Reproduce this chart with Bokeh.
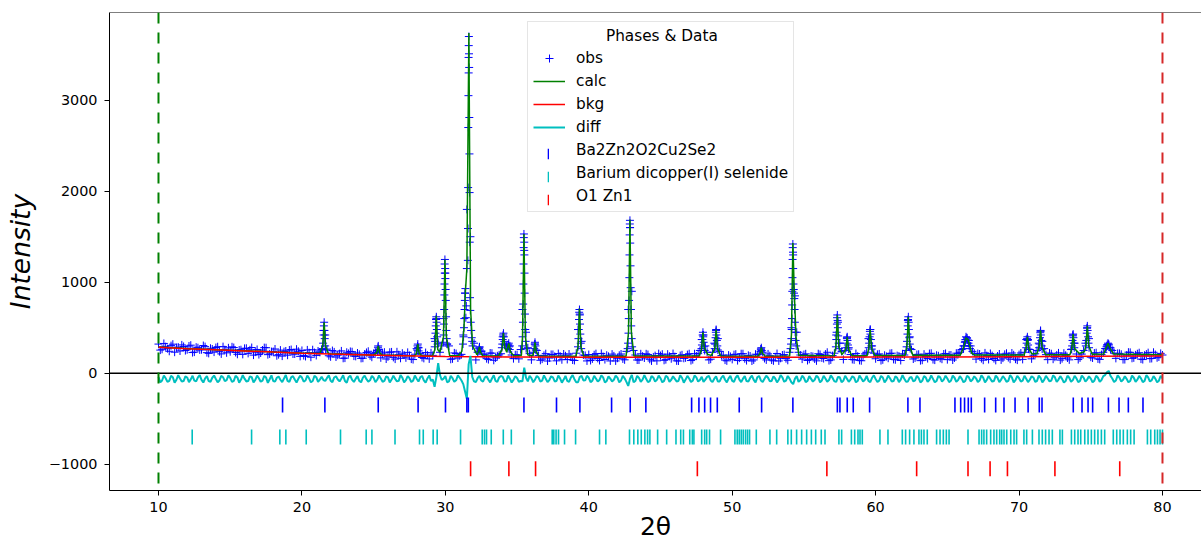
import numpy as np
from bokeh.plotting import figure
from bokeh.models import (Span, Legend, LegendItem, FixedTicker, CustomJSTickFormatter, Range1d)
from bokeh.embed import file_html
from bokeh.resources import INLINE

# ---------------- data ----------------
two_theta_start = 10.0
two_theta_step = 0.25

# observed counts on the 0.25 deg grid, 10.0 .. 80.0
obs_counts = [
    320, 263, 291, 241, 319, 281, 244, 294, 258, 308, 232, 280, 258, 292, 218, 266, 282, 237, 292, 224,
    236, 282, 208, 258, 273, 218, 282, 232, 205, 255, 280, 212, 238, 192, 254, 237, 198, 260, 211, 241,
    250, 184, 225, 258, 195, 229, 470, 265, 180, 234, 198, 245, 166, 217, 236, 185, 207, 165, 228, 191,
    218, 250, 169, 231, 180, 234, 155, 203, 220, 169, 195, 150, 270, 218, 163, 199, 224, 380, 330, 300,
    1100, 300, 158, 216, 192, 420, 1800, 1500, 330, 230, 240, 208, 150, 220, 168, 201, 400, 300, 300, 160,
    203, 260, 1350, 280, 147, 320, 195, 155, 215, 168, 206, 136, 188, 211, 151, 180, 140, 480, 350, 195,
    205, 157, 215, 140, 183, 197, 135, 190, 165, 211, 147, 700, 900, 200, 145, 187, 213, 153, 179, 136,
    194, 142, 209, 159, 182, 134, 202, 169, 214, 149, 189, 250, 420, 230, 154, 330, 380, 195, 144, 199,
    152, 209, 166, 214, 139, 189, 146, 204, 265, 162, 212, 145, 180, 135, 200, 160, 230, 1300, 450, 200,
    205, 140, 188, 156, 214, 168, 210, 138, 194, 420, 330, 151, 390, 205, 147, 187, 137, 212, 380, 300,
    159, 212, 147, 185, 217, 152, 193, 140, 200, 580, 260, 168, 208, 143, 183, 216, 150, 197, 164, 211,
    149, 200, 168, 218, 260, 350, 360, 240, 155, 211, 143, 193, 217, 161, 189, 146, 207, 172, 222, 154,
    204, 152, 370, 260, 198, 250, 460, 270, 149, 214, 176, 223, 160, 197, 147, 420, 211, 168, 250, 500,
    176, 221, 157, 205, 270, 320, 250, 163, 218, 150, 198, 229, 169, 214, 155, 198, 226, 162, 205, 178,
    200,
]
# observed counts on the interleaved grid, 10.125 .. 79.875
obs_counts_mid = [
    254, 327, 270, 303, 231, 287, 311, 249, 299, 227, 286, 256, 304, 226, 274, 232, 291, 212, 258, 279,
    290, 228, 255, 207, 274, 257, 199, 261, 222, 281, 204, 238, 266, 204, 188, 244, 255, 211, 264, 185,
    194, 256, 176, 227, 244, 260, 420, 192, 249, 178, 215, 164, 230, 239, 188, 222, 163, 210, 241, 176,
    228, 260, 212, 156, 230, 174, 235, 164, 199, 229, 155, 209, 280, 173, 227, 157, 196, 600, 230, 600,
    320, 153, 223, 167, 207, 880, 3300, 350, 146, 285, 210, 160, 222, 142, 191, 214, 320, 310, 200, 203,
    158, 700, 450, 215, 230, 250, 142, 196, 134, 206, 184, 216, 148, 191, 211, 145, 220, 650, 200, 135,
    140, 203, 163, 217, 150, 185, 210, 135, 197, 157, 240, 1600, 250, 145, 213, 167, 205, 135, 193, 215,
    209, 149, 186, 216, 136, 194, 164, 204, 139, 214, 215, 370, 300, 146, 230, 470, 240, 199, 136, 184,
    204, 139, 214, 159, 196, 134, 209, 210, 230, 146, 192, 136, 216, 164, 204, 142, 500, 850, 230, 155,
    213, 153, 184, 136, 206, 161, 230, 146, 220, 560, 240, 250, 280, 151, 216, 141, 191, 230, 480, 220,
    207, 139, 197, 165, 220, 148, 188, 213, 250, 400, 156, 205, 138, 209, 161, 219, 144, 191, 154, 217,
    199, 145, 220, 230, 300, 385, 300, 220, 216, 161, 223, 151, 193, 141, 211, 166, 219, 154, 202, 144,
    222, 230, 370, 158, 213, 330, 350, 204, 222, 154, 199, 144, 220, 167, 260, 330, 150, 210, 330, 380,
    167, 225, 152, 230, 300, 280, 220, 218, 208, 150, 231, 164, 201, 225, 150, 210, 160, 230, 170, 218,
]

# difference curve (offset), 0.25 grid
diff_counts = [
    -42, -80, -55, -84, -44, -72, -58, -86, -47, -68, -82, -45, -73, -56, -86, -50, -64, -80, -44, -76,
    -52, -84, -46, -70, -60, -86, -43, -74, -55, -82, -48, -66, -85, -50, -72, -58, -84, -45, -70, -62,
    -48, -80, -56, -86, -44, -70, -75, -52, -82, -47, -69, -57, -86, -45, -73, -60, -84, -49, -66, -78,
    -50, -72, -58, -85, -46, -70, -62, -84, -48, -76, -55, -82, -60, -45, -78, -57, -85, -150, 110, -75,
    -30, -90, -55, -78, -50, -120, -280, 190, -90, -55, -80, -48, -72, -58, -85, -47, -40, -88, -60, -74,
    -52, -85, 60, -90, -55, -70, -48, -82, -60, -75, -45, -86, -57, -70, -84, -49, -66, -100, -30, -78,
    -50, -82, -58, -74, -46, -85, -60, -72, -48, -80, -56, -140, -20, -85, -52, -70, -60, -86, -47, -73,
    -55, -84, -45, -72, -62, -86, -50, -70, -58, -82, -46, -75, -95, -40, -80, -60, -90, -48, -72, -56,
    -84, -47, -70, -60, -86, -52, -74, -45, -80, -62, -50, -85, -58, -72, -46, -82, -60, -120, -30, -78,
    -50, -85, -62, -72, -47, -80, -58, -75, -52, -95, -45, -83, -60, -70, -48, -86, -56, -72, -85, -50,
    -64, -82, -47, -74, -56, -86, -50, -70, -60, -90, -42, -78, -55, -84, -48, -72, -62, -85, -46, -70,
    -58, -83, -50, -76, -60, -85, -45, -72, -56, -80, -48, -74, -62, -86, -50, -70, -58, -84, -46, -75,
    -55, -82, -60, -72, -47, -86, -52, -74, -58, -80, -45, -70, -62, -85, -50, -76, -56, -84, -48, -70,
    -60, -82, -50, -74, -20, 25, -58, -80, -48, -72, -62, -86, -50, -70, -57, -84, -46, -76, -60, -82,
    -58,
]
# difference curve on the interleaved grid, 10.125 .. 79.875
diff_counts_mid = [
    -100, -25, -95, -30, -105, -22, -92, -35, -98, -28, -90, -20, -102, -32, -94, -26, -100, -30, -88, -24,
    -96, -28, -104, -22, -90, -34, -100, -26, -94, -30, -106, -24, -92, -36, -98, -20, -96, -32, -102, -28,
    -92, -26, -100, -30, -94, -40, -85, -24, -98, -34, -90, -22, -104, -28, -96, -32, -100, -26, -92, -30,
    -98, -24, -94, -34, -102, -28, -90, -20, -100, -32, -96, -26, -92, -30, -104, -24, -70, -40, -20, -60,
    -100, -30, -95, -24, -80, -200, 100, -40, -98, -28, -92, -34, -100, -22, -96, -30, -90, -26, -102, -32,
    -94, -90, -50, -28, -100, -30, -92, -24, -98, -34, -90, -26, -104, -30, -96, -22, -100, -40, -80, -28,
    -98, -30, -92, -24, -102, -34, -90, -26, -100, -28, -95, -60, -100, -30, -94, -22, -98, -32, -92, -26,
    -100, -28, -94, -34, -90, -24, -104, -30, -96, -26, -92, -40, -70, -30, -98, -34, -90, -26, -100, -30,
    -94, -24, -98, -32, -92, -26, -102, -30, -96, -28, -90, -34, -100, -22, -94, -30, -100, -60, -95, -28,
    -98, -32, -92, -26, -100, -30, -94, -24, -90, -40, -98, -28, -94, -34, -100, -26, -92, -30, -98, -24,
    -96, -30, -100, -26, -92, -34, -98, -22, -94, -50, -90, -28, -102, -32, -96, -24, -100, -30, -92, -28,
    -98, -26, -94, -32, -100, -28, -90, -34, -96, -24, -102, -30, -92, -26, -98, -32, -94, -22, -100, -30,
    -92, -28, -98, -34, -94, -26, -100, -30, -90, -24, -96, -32, -102, -28, -94, -30, -98, -26, -92, -34,
    -100, -28, -94, -32, 10, -30, -96, -24, -92, -34, -100, -26, -94, -30, -98, -22, -92, -32, -100, -28,
]

# extra observed points across the Bragg peaks
peak_obs_x = [
    21.55, 21.53, 21.57, 21.51, 21.59, 21.48, 21.62, 21.45, 21.65,
    25.32, 25.30, 25.35, 25.27, 25.38,
    28.08, 28.06, 28.11, 28.03, 28.14,
    29.37, 29.35, 29.39, 29.33, 29.41, 29.31, 29.43, 29.29, 29.46, 29.26,
    29.97, 29.95, 29.99, 29.96, 30.00, 29.94, 30.02, 29.93, 30.03, 29.92, 30.05, 29.90, 30.07, 29.88, 30.09, 29.85, 30.12,
    31.40, 31.38, 31.36, 31.34, 31.32, 31.30, 31.27, 31.23,
    31.64, 31.63, 31.65, 31.62, 31.66, 31.61, 31.67, 31.60, 31.68, 31.59, 31.69, 31.58, 31.70, 31.57, 31.50, 31.72,
    31.46, 31.74, 31.43, 31.77, 31.80, 31.84, 31.90,
    32.38, 32.36, 32.41, 32.33,
    34.05, 34.03, 34.08, 34.00, 34.11, 33.97, 34.14, 33.94,
    34.42, 34.40, 34.45, 34.37, 34.49,
    35.48, 35.47, 35.50, 35.46, 35.51, 35.45, 35.52, 35.44, 35.53, 35.43, 35.55, 35.41, 35.57, 35.39, 35.60, 35.36, 35.63,
    36.25, 36.23, 36.28, 36.20, 36.31,
    39.35, 39.33, 39.37, 39.32, 39.39, 39.30, 39.41, 39.28, 39.44, 39.25, 39.47,
    42.87, 42.86, 42.88, 42.85, 42.89, 42.84, 42.91, 42.83, 42.92, 42.81, 42.94, 42.79, 42.96, 42.77, 42.99, 42.74, 43.02, 42.71,
    47.96, 47.94, 47.98, 47.92, 48.01, 47.89, 48.04, 47.86, 48.08,
    48.88, 48.86, 48.90, 48.84, 48.93, 48.81, 48.96, 48.78, 49.00,
    52.03, 52.01, 52.06, 51.99,
    54.23, 54.22, 54.24, 54.21, 54.25, 54.20, 54.27, 54.29, 54.31, 54.19, 54.33, 54.18, 54.35, 54.17, 54.37, 54.15,
    54.39, 54.13, 54.42, 54.10, 54.46, 54.07,
    57.33, 57.31, 57.35, 57.30, 57.37, 57.28, 57.39, 57.26, 57.42, 57.23, 57.45,
    58.02, 58.00, 58.04, 57.98, 58.07, 57.95, 58.10,
    59.62, 59.60, 59.64, 59.58, 59.67, 59.55, 59.70, 59.52, 59.73,
    62.28, 62.26, 62.30, 62.24, 62.32, 62.22, 62.35, 62.19, 62.38, 62.16, 62.41,
    66.30, 66.36, 66.26, 66.42, 66.22, 66.47, 66.18, 66.52, 66.13, 66.58,
    70.58, 70.56, 70.60, 70.53, 70.63, 70.50, 70.66,
    71.50, 71.48, 71.52, 71.46, 71.55, 71.43, 71.58, 71.40, 71.61,
    73.77, 73.75, 73.79, 73.73, 73.82, 73.70, 73.85, 73.67,
    74.76, 74.74, 74.78, 74.72, 74.81, 74.69, 74.84, 74.66, 74.88,
    76.20, 76.15, 76.26, 76.10, 76.32, 76.05, 76.38,
]
peak_obs_y = [
    560, 520, 470, 420, 380, 330, 300, 270, 255,
    300, 285, 265, 245, 235,
    320, 300, 280, 255, 245,
    620, 590, 560, 520, 480, 440, 400, 350, 320, 290,
    1250, 1200, 1150, 1100, 1040, 980, 920, 860, 800, 700, 620, 540, 470, 420, 380, 340, 320,
    930, 880, 800, 700, 600, 500, 400, 320,
    3700, 3600, 3510, 3470, 3360, 3050, 2810, 2700, 2410, 2040, 1985, 1590, 1440, 1240, 1150, 830,
    740, 690, 610, 560, 470, 390, 300,
    290, 270, 255, 240,
    440, 420, 400, 370, 350, 320, 310, 280,
    330, 310, 290, 270, 260,
    1530, 1490, 1440, 1380, 1300, 1200, 1100, 980, 880, 760, 650, 560, 480, 400, 350, 300, 270,
    340, 320, 300, 270, 255,
    700, 670, 640, 590, 540, 480, 430, 380, 330, 290, 270,
    1680, 1640, 1600, 1520, 1430, 1300, 1180, 1050, 940, 800, 700, 600, 520, 440, 380, 330, 290, 270,
    450, 420, 400, 370, 340, 310, 290, 270, 250,
    480, 450, 420, 390, 360, 320, 300, 270, 255,
    280, 265, 250, 240,
    1420, 1380, 1330, 1250, 1150, 1050, 980, 920, 880, 900, 820, 750, 700, 600, 560, 480,
    450, 380, 360, 320, 300, 270,
    640, 610, 580, 540, 500, 450, 410, 370, 330, 290, 270,
    400, 380, 360, 330, 310, 280, 265,
    480, 460, 430, 400, 370, 330, 300, 280, 265,
    620, 590, 560, 520, 480, 430, 390, 350, 320, 290, 270,
    400, 390, 370, 365, 340, 330, 300, 300, 270, 270,
    400, 380, 360, 330, 310, 280, 265,
    470, 445, 420, 390, 360, 320, 300, 280, 265,
    430, 410, 390, 360, 330, 300, 280, 265,
    520, 495, 470, 440, 400, 360, 330, 300, 280,
    330, 315, 310, 290, 285, 270, 265,
]

# calculated profile
calc_x = [
    10.0, 12, 14, 16, 18, 20,
    21.25, 21.45, 21.55, 21.65, 21.85, 23,
    25.0, 25.22, 25.32, 25.42, 25.6,
    27, 27.85, 27.98, 28.08, 28.18, 28.4,
    29.1, 29.27, 29.37, 29.47, 29.62, 29.87, 29.97, 30.07, 30.3,
    30.9, 31.15, 31.3, 31.40, 31.50, 31.64, 31.76, 31.9,
    32.2, 32.3, 32.38, 32.46, 32.6,
    33.7, 33.95, 34.05, 34.15, 34.28, 34.42, 34.55, 34.8,
    35.3, 35.38, 35.48, 35.58, 35.75,
    36.1, 36.17, 36.25, 36.33, 36.5,
    39.1, 39.25, 39.35, 39.45, 39.65,
    42.6, 42.77, 42.87, 42.97, 43.15,
    47.7, 47.86, 47.96, 48.06, 48.3, 48.55, 48.78, 48.88, 48.98, 49.2,
    51.8, 51.95, 52.03, 52.11, 52.3,
    54.0, 54.13, 54.23, 54.33, 54.45, 54.65,
    57.1, 57.23, 57.33, 57.43, 57.65, 57.92, 58.02, 58.12, 58.35,
    59.4, 59.52, 59.62, 59.72, 59.95,
    62.05, 62.18, 62.28, 62.38, 62.6,
    65.9, 66.15, 66.30, 66.45, 66.7, 66.9,
    70.35, 70.48, 70.58, 70.68, 70.9,
    71.25, 71.40, 71.50, 71.60, 71.85,
    73.55, 73.67, 73.77, 73.87, 74.2,
    74.55, 74.66, 74.76, 74.86, 75.1,
    75.9, 76.1, 76.2, 76.35, 76.6,
    78, 80,
]
calc_y = [
    287, 272, 259, 247, 234, 222,
    216, 300, 560, 300, 213, 208,
    201, 225, 300, 225, 199,
    194, 193, 215, 320, 215, 191,
    190, 260, 630, 260, 230, 400, 1250, 400, 192,
    192, 240, 500, 900, 1150, 3740, 700, 300,
    205, 230, 290, 230, 192,
    190, 260, 440, 280, 230, 330, 230, 190,
    195, 400, 1530, 400, 200,
    192, 240, 340, 240, 190,
    186, 290, 710, 290, 188,
    186, 450, 1690, 450, 188,
    188, 260, 450, 280, 205, 196, 270, 480, 270, 188,
    186, 220, 285, 220, 186,
    190, 420, 1430, 880, 400, 196,
    190, 290, 640, 290, 205, 260, 400, 260, 192,
    192, 270, 480, 270, 194,
    194, 290, 620, 290, 196,
    198, 290, 390, 370, 220, 199,
    201, 270, 400, 270, 212,
    216, 290, 470, 290, 204,
    204, 270, 430, 270, 216,
    236, 300, 520, 300, 208,
    211, 290, 330, 270, 210,
    207, 203,
]

# background
bkg_x = [10, 12, 14, 16, 18, 20, 22, 24, 26, 28, 30, 35, 40, 45, 50, 55, 60, 65, 70, 75, 80]
bkg_y = [285, 270, 257, 245, 232, 220, 210, 202, 195, 189, 184, 178, 175, 174, 174, 175, 177, 179, 182, 186, 190]

# reflection positions of the three phases
phase_names = ["Ba2Zn2O2Cu2Se2", "Barium dicopper(I) selenide", "O1 Zn1"]
phase_levels = [-350, -700, -1050]
ticks_phase1 = [18.65, 21.6, 25.32, 28.1, 30.01, 31.5, 31.6, 35.48, 37.75, 39.38, 41.59, 42.89, 43.98,
                47.17, 47.68, 48.08, 48.49, 48.96, 50.49, 52.05, 54.23, 57.33, 57.51, 58.02, 58.44, 59.58,
                62.25, 63.09, 65.53, 65.93, 66.2, 66.46, 66.67, 67.6, 68.37, 68.95, 69.72, 70.63, 71.41,
                71.6, 73.78, 74.39, 74.81, 75.13, 76.23, 76.97, 77.62, 78.64]
ticks_phase2 = [12.35, 16.49, 18.46, 18.88, 20.3, 22.69, 24.48, 24.88, 26.49, 28.2, 28.46, 29.15, 29.43,
                31.06, 32.57, 32.73, 32.87, 33.2, 34.04, 34.6, 36.17, 37.45, 37.56, 37.72, 37.89, 38.31,
                39.08, 40.75, 41.19, 42.84, 43.14, 43.42, 43.66, 43.91, 44.1, 44.26, 44.8, 45.43, 46.08,
                46.41, 46.6, 47.04, 47.22, 47.33, 47.87, 48.08, 48.22, 48.42, 49.19, 50.19, 50.35, 50.49,
                50.63, 50.77, 50.93, 51.07, 51.21, 51.68, 52.63, 53.1, 53.88, 54.12, 54.49, 54.84, 55.19,
                55.52, 55.82, 56.21, 56.47, 57.44, 57.63, 58.31, 58.54, 58.77, 58.91, 59.07, 60.3, 60.86,
                61.86, 62.09, 62.37, 62.67, 63.02, 63.19, 63.37, 63.6, 64.25, 64.49, 64.72, 64.93, 65.12,
                66.44, 67.21, 67.39, 67.55, 67.74, 68.02, 68.25, 68.44, 68.65, 68.79, 68.95, 69.14, 69.42,
                69.65, 69.83, 70.34, 70.53, 70.93, 71.39, 71.62, 71.85, 72.09, 72.32, 72.85, 73.02, 73.65,
                73.88, 74.11, 74.3, 74.58, 74.81, 75.04, 75.27, 75.5, 75.74, 75.97, 76.57, 76.81, 77.04,
                77.27, 77.55, 77.78, 78.02, 78.95, 79.18, 79.46, 79.65, 79.83, 80.0]
ticks_phase3 = [31.76, 34.43, 36.29, 47.57, 56.6, 62.86, 66.44, 67.98, 69.19, 72.5, 77.02]

limit_low, limit_high = 10, 80
x_ticks = [10, 20, 30, 40, 50, 60, 70, 80]
y_ticks = [-1000, 0, 1000, 2000, 3000]

# ---------------- figure ----------------
X0, X1 = 6.584, 82.72
Y0, Y1 = -1289, 3964
FONT = "DejaVu Sans"

p = figure(width=1201, height=544, output_backend="svg", toolbar_location=None,
           x_range=Range1d(X0, X1), y_range=Range1d(Y0, Y1),
           min_border_left=109, min_border_right=0, min_border_top=12, min_border_bottom=54)
p.outline_line_color = None
p.grid.visible = False

grid_x = two_theta_start + two_theta_step * np.arange(len(obs_counts))
mid_x = two_theta_start + two_theta_step / 2 + two_theta_step * np.arange(len(obs_counts_mid))

obs_x_all = list(grid_x) + list(mid_x) + peak_obs_x
obs_y_all = list(obs_counts) + list(obs_counts_mid) + peak_obs_y

diff_x_all = np.concatenate([grid_x, mid_x])
diff_y_all = np.concatenate([diff_counts, diff_counts_mid])
order = np.argsort(diff_x_all, kind="stable")

r_obs = p.scatter(obs_x_all, obs_y_all, marker="cross", size=8, line_color="#0000ff", line_width=1)
r_calc = p.line(calc_x, calc_y, line_color="#008000", line_width=1.5)
r_bkg = p.line(bkg_x, bkg_y, line_color="#ff0000", line_width=1.5)
r_diff = p.line(diff_x_all[order], diff_y_all[order], line_color="#00bfbf", line_width=2)

phase_colors = ["#0000ff", "#00bfbf", "#ff0000"]
blank_handles = []
bar_handles = []
for pos, lev, col in zip([ticks_phase1, ticks_phase2, ticks_phase3], phase_levels, phase_colors):
    p.scatter(pos, [lev] * len(pos), marker="dash", angle=np.pi / 2, size=15,
              line_color=col, line_width=1.6)
    # legend-only handles: an empty one (no glyph in the main legend) and a
    # placeholder bar whose legend swatch is a thin vertical tick
    blank_handles.append(p.vspan(x=[], line_color=col))
    bar_handles.append(p.vbar(x=[np.nan], top=[np.nan], width=0.1,
                              fill_color=col, line_color=None))

p.add_layout(Span(location=0, dimension="width", line_color="black", line_width=1.5))
p.add_layout(Span(location=Y1, dimension="width", line_color="black", line_width=1))
p.add_layout(Span(location=limit_low, dimension="height", line_color="#008000",
                  line_width=2, line_dash="11 9"))
p.add_layout(Span(location=limit_high, dimension="height", line_color="#d62728",
                  line_width=2, line_dash="11 9"))

fmt = CustomJSTickFormatter(code="return (tick < 0 ? '\u2212' : '') + Math.abs(tick).toFixed(0);")
for ax, ticks in ((p.xaxis[0], x_ticks), (p.yaxis[0], y_ticks)):
    ax.ticker = FixedTicker(ticks=ticks, minor_ticks=[])
    ax.formatter = fmt
    ax.axis_line_color = "black"
    ax.axis_line_width = 1
    ax.major_tick_line_color = "black"
    ax.major_tick_in = 0
    ax.major_tick_out = 5
    ax.minor_tick_line_color = None
    ax.major_label_text_font = FONT
    ax.major_label_text_font_size = "14.4px"
    ax.major_label_text_color = "black"
    ax.axis_label_text_font = FONT
    ax.axis_label_text_color = "black"

p.xaxis.axis_label = "2θ"
p.xaxis.axis_label_text_font_size = "25px"
p.xaxis.axis_label_text_font_style = "normal"
p.xaxis.major_label_standoff = 6
p.xaxis.axis_label_standoff = -3
p.yaxis.axis_label = "Intensity"
p.yaxis.axis_label_text_font_size = "26.5px"
p.yaxis.axis_label_text_font_style = "italic"
p.yaxis.major_label_standoff = 7
p.yaxis.axis_label_standoff = 10

items = [LegendItem(label="obs", renderers=[r_obs]),
         LegendItem(label="calc", renderers=[r_calc]),
         LegendItem(label="bkg", renderers=[r_bkg]),
         LegendItem(label="diff", renderers=[r_diff])]
for name, r in zip(phase_names, blank_handles):
    items.append(LegendItem(label=name, renderers=[r]))

legend = Legend(items=items, title="\u00a0" * 15 + "Phases & Data", location=(418, 278),
                title_text_font=FONT, title_text_font_size="15.3px", title_text_font_style="normal",
                title_text_color="black", title_standoff=3,
                label_text_font=FONT, label_text_font_size="15.3px", label_text_color="black",
                glyph_width=32, glyph_height=20, label_height=20, label_standoff=11,
                spacing=3, padding=5, margin=0,
                border_line_color="#cccccc", border_line_width=1,
                background_fill_color="white", background_fill_alpha=0.8)
p.add_layout(legend)

# vertical tick swatches for the three phase rows of the legend above
tick_legend = Legend(items=[LegendItem(label="", renderers=[r]) for r in bar_handles],
                     location=(438, 281), glyph_width=2, glyph_height=13, label_height=20,
                     label_standoff=0, spacing=3, padding=0, margin=0,
                     border_line_color=None, background_fill_alpha=0,
                     label_text_font_size="1px")
p.add_layout(tick_legend)

open("out.html", "w").write(file_html(p, INLINE))
